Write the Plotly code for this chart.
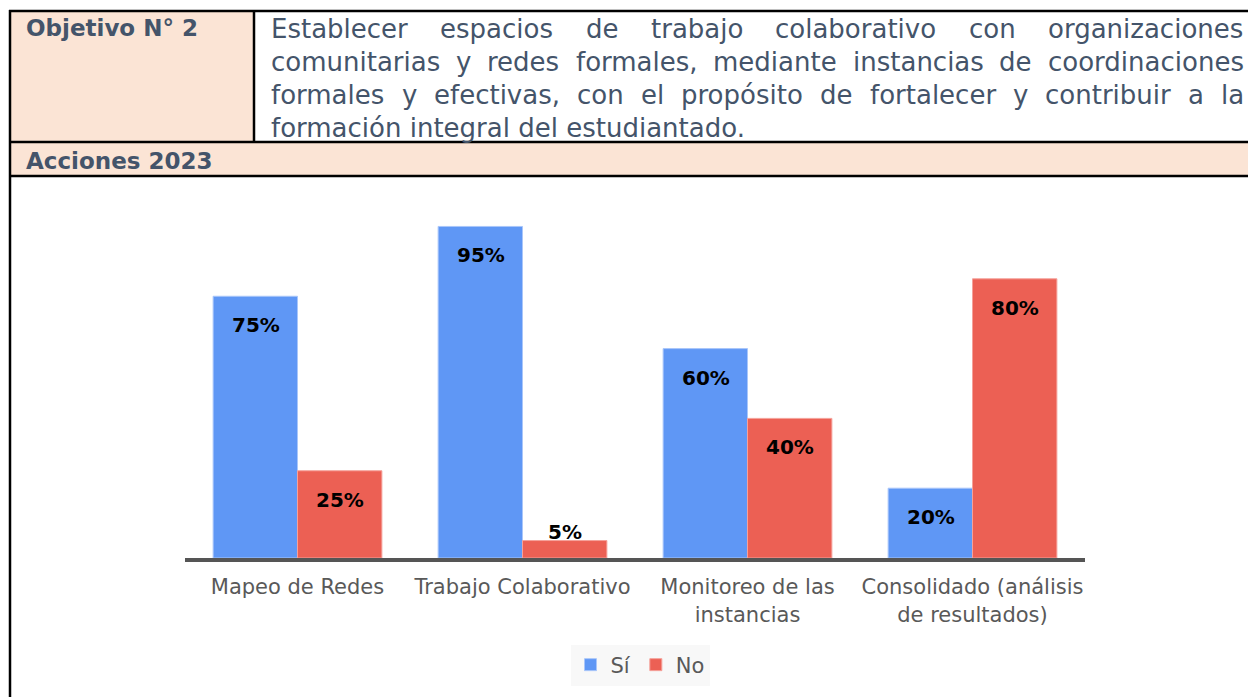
import plotly.graph_objects as go

# chart data
categorias = ["Mapeo de Redes", "Trabajo Colaborativo", "Monitoreo de las<br>instancias",
              "Consolidado (análisis<br>de resultados)"]
si = [75, 95, 60, 20]
no = [25, 5, 40, 80]
series = ["Sí", "No"]

# table text
objetivo_titulo = "Objetivo N° 2"
acciones_titulo = "Acciones 2023"
objetivo_lineas = [
    "Establecer espacios de trabajo colaborativo con organizaciones",
    "comunitarias y redes formales, mediante instancias de coordinaciones",
    "formales y efectivas, con el propósito de fortalecer y contribuir a la",
    "formación integral del estudiantado.",
]

W, H = 1256, 697
OFF = 8                            # page body margin
L, R, T, B = 185, 1085, 209, 558   # plot area in screen pixels

def px(x):
    return (x - L) / (R - L)

def py(y):
    return (B - y) / (B - T)

# rough DejaVu Sans advance widths (per 1000 em) to justify the paragraph
CW = {' ': 318, ',': 318, '.': 318, 'a': 613, 'b': 635, 'c': 550, 'd': 635, 'e': 615,
      'f': 352, 'g': 635, 'h': 634, 'i': 278, 'j': 278, 'k': 579, 'l': 278, 'm': 974,
      'n': 634, 'o': 612, 'p': 635, 'q': 635, 'r': 411, 's': 521, 't': 392, 'u': 634,
      'v': 592, 'w': 818, 'x': 592, 'y': 592, 'z': 525, 'á': 613, 'ó': 612, 'E': 632}

def ancho(palabra, fs):
    return sum(CW.get(ch, 600) for ch in palabra) * fs / 1000

texto_col = "#44546A"
fs_par = 26
fuente = "DejaVu Sans"

fig = go.Figure()
fig.add_trace(go.Bar(x=categorias, y=si, name=series[0], marker=dict(color="#5F97F5", line=dict(color="#A9C6FA", width=1))))
fig.add_trace(go.Bar(x=categorias, y=no, name=series[1], marker=dict(color="#EC6054", line=dict(color="#F5A19A", width=1))))

anns = []
# data labels
for serie, vals, dx in [(series[0], si, -42), (series[1], no, 42)]:
    for c, v in zip(categorias, vals):
        anns.append(dict(x=c, y=v, xref="x", yref="y", text=f"<b>{v}%</b>", showarrow=False,
                         xshift=dx, yshift=-29 if v >= 15 else 9, yanchor="middle",
                         font=dict(size=20, color="black", family=fuente)))

# headers
anns.append(dict(x=px(24), y=py(28), xref="paper", yref="paper", text=f"<b>{objetivo_titulo}</b>",
                 xanchor="left", yanchor="middle", showarrow=False, font=dict(size=23, color=texto_col, family=fuente)))
anns.append(dict(x=px(24), y=py(161), xref="paper", yref="paper", text=f"<b>{acciones_titulo}</b>",
                 xanchor="left", yanchor="middle", showarrow=False, font=dict(size=23, color=texto_col, family=fuente)))

# justified paragraph
x0, x1 = 270, 1243
for i, linea in enumerate(objetivo_lineas):
    yc = 29 + i * 33
    palabras = linea.split(" ")
    if i == len(objetivo_lineas) - 1:
        anns.append(dict(x=px(x0), y=py(yc), xref="paper", yref="paper", text=linea, xanchor="left",
                         yanchor="middle", showarrow=False, borderpad=0,
                         font=dict(size=fs_par, color=texto_col, family=fuente)))
        continue
    anchos = [ancho(p, fs_par) for p in palabras]
    hueco = (x1 - x0 - sum(anchos)) / (len(palabras) - 1)
    xc = x0
    for p, a in zip(palabras, anchos):
        anns.append(dict(x=px(xc), y=py(yc), xref="paper", yref="paper", text=p, xanchor="left",
                         yanchor="middle", showarrow=False, borderpad=0,
                         font=dict(size=fs_par, color=texto_col, family=fuente)))
        xc += a + hueco

# table cells and borders
shapes = [
    dict(type="rect", xref="paper", yref="paper", x0=px(10), x1=px(254), y0=py(11), y1=py(142),
         fillcolor="#FBE4D5", line=dict(width=0), layer="below"),
    dict(type="rect", xref="paper", yref="paper", x0=px(10), x1=px(1270), y0=py(142), y1=py(176),
         fillcolor="#FBE4D5", line=dict(width=0), layer="below"),
]
for (a, b, c, d) in [(9, 11, 1270, 11), (9, 142, 1270, 142), (9, 176, 1270, 176),
                     (10, 10, 10, 710), (254, 11, 254, 142)]:
    shapes.append(dict(type="line", xref="paper", yref="paper", x0=px(a), y0=py(b), x1=px(c), y1=py(d),
                       line=dict(color="black", width=2.5)))

fig.update_layout(
    width=W, height=H,
    margin=dict(l=L - OFF, r=W - (R - OFF), t=T - OFF, b=H - (B - OFF)),
    paper_bgcolor="white", plot_bgcolor="white",
    barmode="group", bargap=0.25, bargroupgap=0,
    font=dict(family=fuente, color="#595959"),
    xaxis=dict(showline=True, linecolor="#555555", linewidth=4, ticks="", showgrid=False,
               tickfont=dict(size=21, color="#595959"), ticklabelstandoff=7),
    yaxis=dict(range=[0, 100], visible=False),
    legend=dict(orientation="h", x=px(640), y=py(665), xanchor="center", yanchor="middle",
                bgcolor="#F8F8F8", font=dict(size=21, color="#595959"), itemwidth=30,
                traceorder="normal"),
    annotations=anns,
    shapes=shapes,
)

fig.write_html("out.html")
